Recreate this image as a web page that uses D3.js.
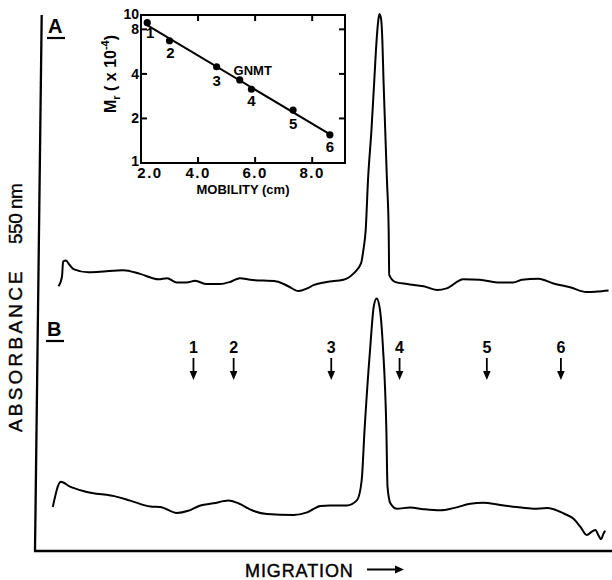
<!DOCTYPE html>
<html>
<head>
<meta charset="utf-8">
<script src="https://cdn.jsdelivr.net/npm/d3@7"></script>
<style>
  html, body { margin: 0; padding: 0; background: #fff; }
  svg { display: block; }
  text { font-family: "Liberation Sans", Arial, sans-serif; fill: #000; }
</style>
</head>
<body>
<svg id="chart" width="612" height="580"></svg>
<script>
// ---------------- DATA ----------------
// Inset: standard markers (mobility in cm, Mr x 10^-4)
const markerLabels   = ["1", "2", "3", "4", "5", "6"];
const markerMobility = [2.22, 3.00, 4.65, 5.87, 7.33, 8.62];
const markerMr       = [8.87, 6.70, 4.47, 3.15, 2.28, 1.55];
const gnmtLabel      = "GNMT";
const gnmtMobility   = 5.46;
const gnmtMr         = 3.64;
const insetXTicks    = [2.0, 4.0, 6.0, 8.0];
const insetYTicks    = [1, 2, 4, 8, 10];
const insetInnerTicksX = [4.0, 6.0, 8.0];
const insetInnerTicksY = [2, 4, 8];

// Panel B: marker arrow positions along migration axis (cm)
const arrowLabels   = ["1", "2", "3", "4", "5", "6"];
const arrowMobility = [2.22, 2.92, 4.62, 5.81, 7.33, 8.62];

// Densitometer trace A (migration cm, absorbance arbitrary units)
const traceAMig = [-0.13,-0.07,-0.05,0.00,0.06,0.13,0.39,0.59,1.00,1.29,1.61,1.76,1.93,2.10,2.25,2.45,2.68,2.86,3.03,3.21,3.67,3.87,4.05,4.20,4.31,4.54,4.83,5.01,5.14,5.18,5.22,5.26,5.32,5.37,5.41,5.44,5.46,5.49,5.51,5.53,5.56,5.59,5.62,5.63,5.73,5.94,6.23,6.46,6.63,6.92,7.21,7.51,7.79,7.94,8.23,8.49,8.78,9.07,9.25,9.45];
const traceAAbs = [0.494,0.512,0.540,0.542,0.534,0.526,0.520,0.521,0.524,0.517,0.507,0.509,0.501,0.501,0.504,0.498,0.498,0.502,0.509,0.506,0.503,0.494,0.485,0.490,0.496,0.502,0.506,0.518,0.537,0.562,0.599,0.692,0.785,0.879,0.953,0.991,1.002,0.991,0.953,0.879,0.785,0.692,0.599,0.515,0.502,0.498,0.494,0.487,0.490,0.507,0.506,0.501,0.501,0.506,0.508,0.499,0.492,0.483,0.484,0.486];

// Densitometer trace B
const traceBMig = [-0.23,-0.09,0.07,0.33,0.89,1.12,1.47,1.64,1.93,2.13,2.34,2.57,2.83,3.00,3.26,3.50,3.96,4.20,4.43,4.60,4.89,5.07,5.15,5.20,5.30,5.36,5.41,5.46,5.52,5.58,5.60,5.65,5.76,5.99,6.23,6.52,6.75,7.04,7.27,7.56,7.85,8.14,8.38,8.67,8.84,8.96,9.07,9.16,9.22,9.28,9.32,9.36,9.39];
const traceBAbs = [0.082,0.129,0.120,0.111,0.101,0.094,0.083,0.082,0.071,0.075,0.085,0.089,0.094,0.089,0.075,0.069,0.067,0.072,0.084,0.085,0.085,0.095,0.132,0.226,0.381,0.456,0.471,0.456,0.381,0.226,0.120,0.089,0.079,0.081,0.078,0.076,0.080,0.088,0.090,0.086,0.082,0.079,0.080,0.070,0.060,0.045,0.030,0.036,0.039,0.028,0.022,0.032,0.038];

// ---------------- LAYOUT ----------------
const svg = d3.select("#chart");
const M = { left: 35, right: 612, top: 15, bottom: 551, slant: 6.7 };
const xMain = d3.scaleLinear().domain([-0.54, 9.51]).range([M.left, M.right]);
const yMain = d3.scaleLinear().domain([0, 1]).range([M.bottom, M.top]);

// axes of main panel
svg.append("line").attr("x1", M.left + M.slant).attr("y1", M.top)
  .attr("x2", M.left).attr("y2", M.bottom)
  .attr("stroke", "#000").attr("stroke-width", 2.3);
svg.append("line").attr("x1", M.left - 1).attr("y1", M.bottom)
  .attr("x2", M.right).attr("y2", M.bottom)
  .attr("stroke", "#000").attr("stroke-width", 2.7);

// traces
const lineGen = d3.line().x(d => xMain(d[0])).y(d => yMain(d[1])).curve(d3.curveMonotoneX);
svg.append("path").datum(d3.zip(traceAMig, traceAAbs)).attr("d", lineGen)
  .attr("fill", "none").attr("stroke", "#000").attr("stroke-width", 2).attr("stroke-linejoin", "round");
svg.append("path").datum(d3.zip(traceBMig, traceBAbs)).attr("d", lineGen)
  .attr("fill", "none").attr("stroke", "#000").attr("stroke-width", 2).attr("stroke-linejoin", "round");

// panel letters
function panelLetter(txt, x, y) {
  svg.append("text").attr("x", x).attr("y", y)
    .attr("font-size", 20).attr("font-weight", "bold").text(txt);
  svg.append("line").attr("x1", x - 1).attr("x2", x + 17).attr("y1", y + 5).attr("y2", y + 5)
    .attr("stroke", "#000").attr("stroke-width", 2.2);
}
panelLetter("A", 48, 33);
panelLetter("B", 47, 336);

// arrows for panel B
const arrowG = svg.append("g");
arrowMobility.forEach((m, i) => {
  const x = xMain(m);
  arrowG.append("text").attr("x", x).attr("y", 353).attr("text-anchor", "middle")
    .attr("font-size", 16).attr("font-weight", "bold").text(arrowLabels[i]);
  arrowG.append("line").attr("x1", x).attr("x2", x).attr("y1", 358).attr("y2", 373)
    .attr("stroke", "#000").attr("stroke-width", 1.8);
  arrowG.append("path").attr("d", `M${x - 3.8},${371} L${x + 3.8},${371} L${x},${380} Z`).attr("fill", "#000");
});

// axis titles
svg.append("text").attr("transform", "translate(22,432) rotate(-90)")
  .attr("font-size", 19).attr("letter-spacing", 3.2).attr("stroke", "#000").attr("stroke-width", 0.4)
  .text("ABSORBANCE");
svg.append("text").attr("transform", "translate(22,244) rotate(-90)")
  .attr("font-size", 19).attr("letter-spacing", -0.5).attr("stroke", "#000").attr("stroke-width", 0.4)
  .text("550 nm");
svg.append("text").attr("x", 245).attr("y", 577)
  .attr("font-size", 18).attr("letter-spacing", 0.9).attr("stroke", "#000").attr("stroke-width", 0.4)
  .text("MIGRATION");
svg.append("line").attr("x1", 367).attr("x2", 397).attr("y1", 569.5).attr("y2", 569.5)
  .attr("stroke", "#000").attr("stroke-width", 2);
svg.append("path").attr("d", "M395,565.5 L404,569.5 L395,573.5 Z").attr("fill", "#000");

// ---------------- INSET ----------------
const I = { left: 141, right: 345, top: 15, bottom: 163 };
const xIn = d3.scaleLinear().domain([2.0, 9.15]).range([I.left, I.right]);
const yIn = d3.scaleLog().domain([1, 10]).range([I.bottom, I.top]);
const inset = svg.append("g");

inset.append("rect").attr("x", I.left).attr("y", I.top)
  .attr("width", I.right - I.left).attr("height", I.bottom - I.top)
  .attr("fill", "#fff").attr("stroke", "#000").attr("stroke-width", 2);

// inward ticks
const tl = 6;
insetInnerTicksX.forEach(v => {
  inset.append("line").attr("x1", xIn(v)).attr("x2", xIn(v)).attr("y1", I.bottom).attr("y2", I.bottom - tl).attr("stroke", "#000").attr("stroke-width", 2);
  inset.append("line").attr("x1", xIn(v)).attr("x2", xIn(v)).attr("y1", I.top).attr("y2", I.top + tl).attr("stroke", "#000").attr("stroke-width", 2);
});
insetInnerTicksY.forEach(v => {
  inset.append("line").attr("x1", I.left).attr("x2", I.left + tl).attr("y1", yIn(v)).attr("y2", yIn(v)).attr("stroke", "#000").attr("stroke-width", 2);
  inset.append("line").attr("x1", I.right).attr("x2", I.right - tl).attr("y1", yIn(v)).attr("y2", yIn(v)).attr("stroke", "#000").attr("stroke-width", 2);
});

// tick labels
insetXTicks.forEach((v, i) => {
  inset.append("text").attr("x", xIn(v) + (i === 0 ? 9 : 0)).attr("y", I.bottom + 15)
    .attr("text-anchor", "middle").attr("font-size", 15).attr("font-weight", "bold")
    .attr("letter-spacing", 1.5).text(d3.format(".1f")(v));
});
insetYTicks.forEach(v => {
  inset.append("text").attr("x", I.left - 2).attr("y", yIn(v) + (v === 10 ? 4 : v === 1 ? 3 : 5))
    .attr("text-anchor", "end").attr("font-size", 14).attr("font-weight", "bold").text(v);
});

// axis titles inset
inset.append("text").attr("x", 243).attr("y", 194).attr("text-anchor", "middle")
  .attr("font-size", 13).attr("font-weight", "bold").text("MOBILITY (cm)");
const yt = inset.append("text").attr("transform", "translate(116,74) rotate(-90)")
  .attr("text-anchor", "middle").attr("font-size", 16).attr("font-weight", "bold");
yt.append("tspan").text("M");
yt.append("tspan").attr("font-size", 11).attr("dy", 4).text("r");
yt.append("tspan").attr("dy", -4).text(" ( x 10");
yt.append("tspan").attr("font-size", 11).attr("dy", -7).text("-4");
yt.append("tspan").attr("dy", 7).text(")");

// regression line (least squares on log Mr vs mobility)
const lx = markerMobility, ly = markerMr.map(Math.log10);
const mx = d3.mean(lx), my = d3.mean(ly);
const slope = d3.sum(lx.map((x, i) => (x - mx) * (ly[i] - my))) / d3.sum(lx.map(x => (x - mx) ** 2));
const icpt = my - slope * mx;
const x0 = d3.min(lx) - 0.08, x1 = d3.max(lx) + 0.02;
inset.append("line").attr("x1", xIn(x0)).attr("y1", yIn(10 ** (icpt + slope * x0)))
  .attr("x2", xIn(x1)).attr("y2", yIn(10 ** (icpt + slope * x1)))
  .attr("stroke", "#000").attr("stroke-width", 2);

// points
const allPts = markerMobility.map((m, i) => [m, markerMr[i]]).concat([[gnmtMobility, gnmtMr]]);
inset.selectAll("circle.pt").data(allPts).enter().append("circle")
  .attr("cx", d => xIn(d[0])).attr("cy", d => yIn(d[1])).attr("r", 3.6).attr("fill", "#000");

// point labels
const labelOffsets = [[3, 15], [1, 17], [0, 19], [0, 17], [0, 19], [0, 17]];
markerMobility.forEach((m, i) => {
  inset.append("text").attr("x", xIn(m) + labelOffsets[i][0]).attr("y", yIn(markerMr[i]) + labelOffsets[i][1])
    .attr("text-anchor", "middle").attr("font-size", 15).attr("font-weight", "bold").text(markerLabels[i]);
});
inset.append("text").attr("x", xIn(gnmtMobility) + 13).attr("y", yIn(gnmtMr) - 5)
  .attr("text-anchor", "middle").attr("font-size", 13).attr("font-weight", "bold").text(gnmtLabel);
</script>
</body>
</html>
